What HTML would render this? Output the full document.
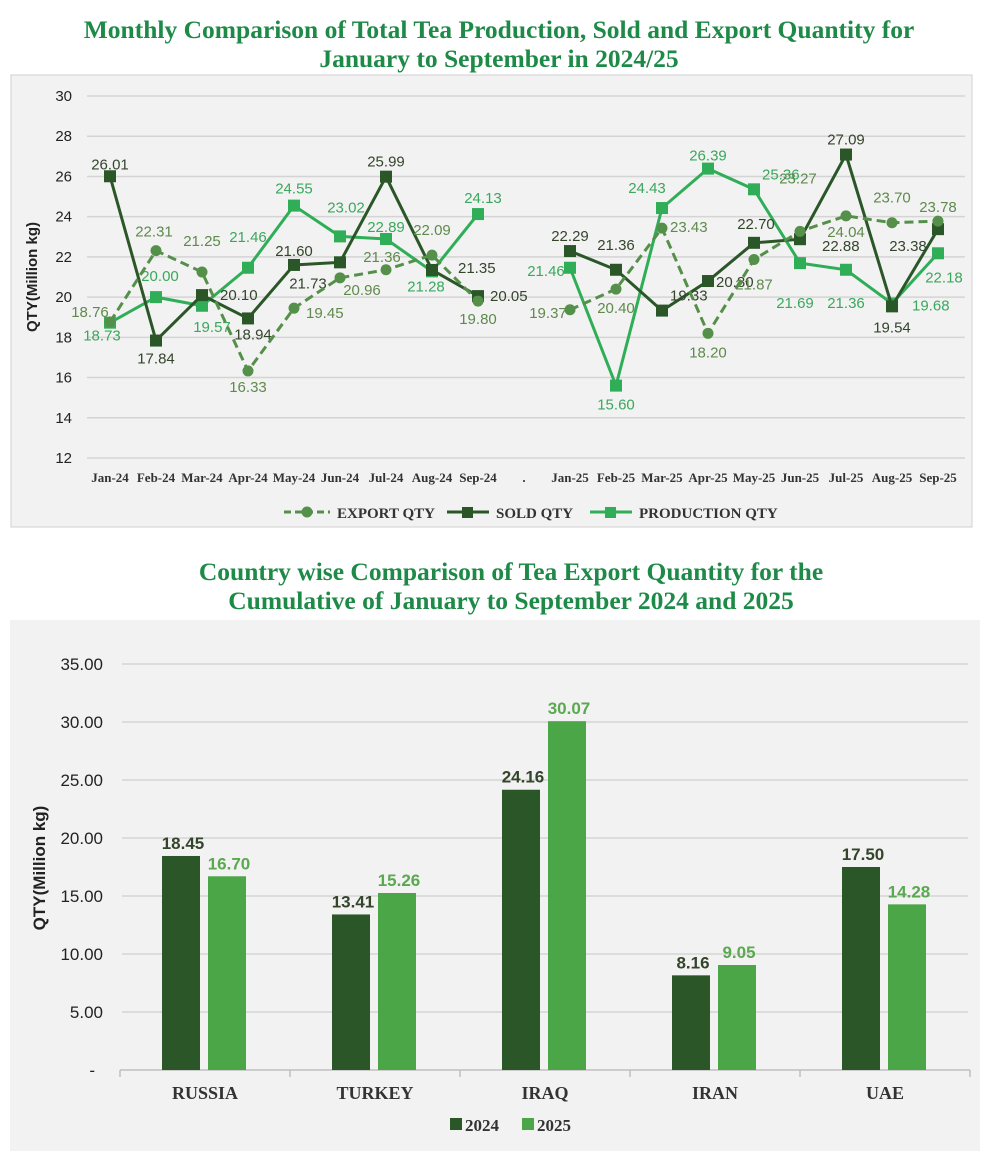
<!DOCTYPE html>
<html><head><meta charset="utf-8">
<style>
body{margin:0;background:#fff;width:1000px;height:1151px;overflow:hidden;}
svg{display:block;}
.ttl{font-family:"Liberation Serif",serif;font-weight:bold;fill:#1e8a48;font-size:25.5px;}
.tk{font-family:"Liberation Sans",sans-serif;font-size:15px;fill:#222;}
.xl{font-family:"Liberation Serif",serif;font-weight:bold;font-size:13px;fill:#333;}
.lb{font-family:"Liberation Sans",sans-serif;font-size:15px;}
</style></head>
<body>
<svg id="svg" width="1000" height="1151" viewBox="0 0 1000 1151" xmlns="http://www.w3.org/2000/svg">
<text class="ttl" x="499" y="38" text-anchor="middle">Monthly Comparison of Total Tea Production, Sold and Export Quantity for</text>
<text class="ttl" x="499" y="67" text-anchor="middle">January to September in 2024/25</text>
<rect x="11" y="75" width="961" height="452" fill="#f2f2f2" stroke="#d0d0d0"/>
<g id="topG"></g>
<text class="ttl" x="511" y="580" text-anchor="middle">Country wise Comparison of Tea Export Quantity for the</text>
<text class="ttl" x="511" y="609" text-anchor="middle">Cumulative of January to September 2024 and 2025</text>
<rect x="10" y="620" width="970" height="531" fill="#f2f2f2"/>
<g id="botG"></g>
</svg>
<script>
const months=["Jan-24","Feb-24","Mar-24","Apr-24","May-24","Jun-24","Jul-24","Aug-24","Sep-24",".","Jan-25","Feb-25","Mar-25","Apr-25","May-25","Jun-25","Jul-25","Aug-25","Sep-25"];
const exportQty=[18.76,22.31,21.25,16.33,19.45,20.96,21.36,22.09,19.80,null,19.37,20.40,23.43,18.20,21.87,23.27,24.04,23.70,23.78];
const soldQty=[26.01,17.84,20.10,18.94,21.60,21.73,25.99,21.35,20.05,null,22.29,21.36,19.33,20.80,22.70,22.88,27.09,19.54,23.38];
const prodQty=[18.73,20.00,19.57,21.46,24.55,23.02,22.89,21.28,24.13,null,21.46,15.60,24.43,26.39,25.36,21.69,21.36,19.68,22.18];
const yTicks=[12,14,16,18,20,22,24,26,28,30];
const countries=["RUSSIA","TURKEY","IRAQ","IRAN","UAE"];
const val2024=[18.45,13.41,24.16,8.16,17.50];
const val2025=[16.70,15.26,30.07,9.05,14.28];
const barTicks=[0,5,10,15,20,25,30,35];

const NS="http://www.w3.org/2000/svg";
function mk(p,t,a,txt){const e=document.createElementNS(NS,t);for(const k in a){if(k==='font-size')e.style.fontSize=a[k]+'px';else if(k==='font-weight')e.style.fontWeight=a[k];else e.setAttribute(k,a[k]);}if(txt!==undefined)e.textContent=txt;p.appendChild(e);return e;}
const offE=[[-20,-5,"middle"],[-2,-14,"middle"],[0,-26,"middle"],[0,21,"middle"],[12,10,"start"],[22,17,"middle"],[-4,-8,"middle"],[0,-20,"middle"],[0,23,"middle"],null,[-22,8,"middle"],[0,24,"middle"],[8,4,"start"],[0,24,"middle"],[0,30,"middle"],[-2,-48,"middle"],[0,21,"middle"],[0,-20,"middle"],[0,-9,"middle"]];
const offS=[[0,-7,"middle"],[0,23,"middle"],[18,5,"start"],[5,21,"middle"],[0,-9,"middle"],[-32,26,"middle"],[0,-10,"middle"],[26,3,"start"],[12,5,"start"],null,[0,-10,"middle"],[0,-20,"middle"],[8,-10,"start"],[8,6,"start"],[2,-14,"middle"],[22,12,"start"],[0,-10,"middle"],[0,26,"middle"],[-30,22,"middle"]];
const offP=[[-8,18,"middle"],[4,-16,"middle"],[10,26,"middle"],[0,-26,"middle"],[0,-12,"middle"],[6,-24,"middle"],[0,-7,"middle"],[-6,20,"middle"],[5,-11,"middle"],null,[-24,8,"middle"],[0,24,"middle"],[-15,-15,"middle"],[0,-8,"middle"],[8,-10,"start"],[-5,45,"middle"],[0,38,"middle"],[20,7,"start"],[6,29,"middle"]];

const topG=document.getElementById('topG');
const X=i=>110+i*46, Y=v=>458-(v-12)*20.11;
yTicks.forEach(t=>{
  const l=mk(topG,'line',{x1:87,x2:965,y1:Y(t),y2:Y(t),stroke:'#d4d4d4','stroke-width':1.5});
  
  
  const tx=mk(topG,'text',{x:72,y:Y(t)+5,'text-anchor':'end',class:'tk'},t);
  
  
});
months.forEach((m,i)=>{
  const tx=mk(topG,'text',{x:X(i),y:482,'text-anchor':'middle',class:'xl'},m);
  
  
});
const yt=mk(topG,'text',{x:0,y:0,transform:'translate(37,277) rotate(-90)','text-anchor':'middle',class:'lb','font-size':'15','font-weight':'bold',fill:'#222'},'QTY(Million kg)');



function series(data,color,dash,marker,labColor,offs,name){
  [[0,8],[10,18]].forEach(([a,b])=>{
    let d='';for(let i=a;i<=b;i++)d+=(i==a?'M':'L')+X(i)+','+Y(data[i]);
    const p=mk(topG,'path',{d:d,fill:'none',stroke:color,'stroke-width':3,'stroke-dasharray':dash||'none'});
    
    
  });
  data.forEach((v,i)=>{
    if(v===null)return;
    let m;
    if(marker==='c')m=mk(topG,'circle',{cx:X(i),cy:Y(v),r:5.5,fill:color});
    else m=mk(topG,'rect',{x:X(i)-6,y:Y(v)-6,width:12,height:12,fill:color});
    
    
    const o=offs[i];
    const t=mk(topG,'text',{x:X(i)+o[0],y:Y(v)+o[1],'text-anchor':o[2],class:'lb',fill:labColor},v.toFixed(2));
    
    
  });
}
series(prodQty,'#2fae57',null,'s','#3aa85c',offP,'production');
series(soldQty,'#2b5628',null,'s','#34452c',offS,'sold');
series(exportQty,'#55904a','9,5','c','#5e8a4c',offE,'export');

const lg=mk(topG,'g',{});


mk(lg,'line',{x1:284,x2:330,y1:512,y2:512,stroke:'#55904a','stroke-width':3,'stroke-dasharray':'7,4'});
mk(lg,'circle',{cx:307,cy:512,r:5.5,fill:'#55904a'});
const le1=mk(lg,'text',{x:337,y:518,class:'xl','font-size':'15',fill:'#5e8a4c'},'EXPORT QTY');

mk(lg,'line',{x1:447,x2:489,y1:512,y2:512,stroke:'#2b5628','stroke-width':3});
mk(lg,'rect',{x:462,y:507,width:11,height:11,fill:'#2b5628'});
const le2=mk(lg,'text',{x:496,y:518,class:'xl','font-size':'15',fill:'#2b5628'},'SOLD QTY');

mk(lg,'line',{x1:590,x2:632,y1:512,y2:512,stroke:'#2fae57','stroke-width':3});
mk(lg,'rect',{x:605,y:507,width:11,height:11,fill:'#2fae57'});
const le3=mk(lg,'text',{x:639,y:518,class:'xl','font-size':'15',fill:'#2fae57'},'PRODUCTION QTY');


const botG=document.getElementById('botG');
const BY=v=>1070-v*11.6, BX=i=>205+i*170;
barTicks.forEach(t=>{
  if(t>0){const l=mk(botG,'line',{x1:122,x2:968,y1:BY(t),y2:BY(t),stroke:'#d4d4d4','stroke-width':1.5});
  
  }
  const tx=mk(botG,'text',{x:t?103:95,y:BY(t)+6,'text-anchor':'end',class:'tk','font-size':'17'},t?t.toFixed(2):'-');
  
  
});
const ax=mk(botG,'line',{x1:120,x2:970,y1:1070,y2:1070,stroke:'#bfbfbf','stroke-width':1.5});


for(let i=0;i<=countries.length;i++){const tk=mk(botG,'line',{x1:120+i*170,x2:120+i*170,y1:1070,y2:1077,stroke:'#bfbfbf','stroke-width':1.5});

}
countries.forEach((c,i)=>{
  const b1=mk(botG,'rect',{x:BX(i)-43,y:BY(val2024[i]),width:38,height:val2024[i]*11.6,fill:'#2b5628'});
  
  
  const b2=mk(botG,'rect',{x:BX(i)+3,y:BY(val2025[i]),width:38,height:val2025[i]*11.6,fill:'#4ba647'});
  
  
  const l1=mk(botG,'text',{x:BX(i)-22,y:BY(val2024[i])-7,'text-anchor':'middle',class:'lb','font-size':'17','font-weight':'bold',fill:'#34452c'},val2024[i].toFixed(2));
  
  
  const l2=mk(botG,'text',{x:BX(i)+24,y:BY(val2025[i])-7,'text-anchor':'middle',class:'lb','font-size':'17','font-weight':'bold',fill:'#5aa84f'},val2025[i].toFixed(2));
  
  
  const cl=mk(botG,'text',{x:BX(i),y:1099,'text-anchor':'middle',class:'xl','font-size':'18'},c);
  
  
});
const yt2=mk(botG,'text',{x:0,y:0,transform:'translate(45,868) rotate(-90)','text-anchor':'middle',class:'lb','font-size':'17','font-weight':'bold',fill:'#222'},'QTY(Million kg)');


const bl=mk(botG,'g',{});


mk(bl,'rect',{x:450,y:1118,width:12,height:12,fill:'#2b5628'});
const bl1=mk(bl,'text',{x:465,y:1131,class:'xl','font-size':'17',fill:'#2b5628'},'2024');

mk(bl,'rect',{x:522,y:1118,width:12,height:12,fill:'#4ba647'});
const bl2=mk(bl,'text',{x:537,y:1131,class:'xl','font-size':'17',fill:'#4ba647'},'2025');

</script>
</body></html>
